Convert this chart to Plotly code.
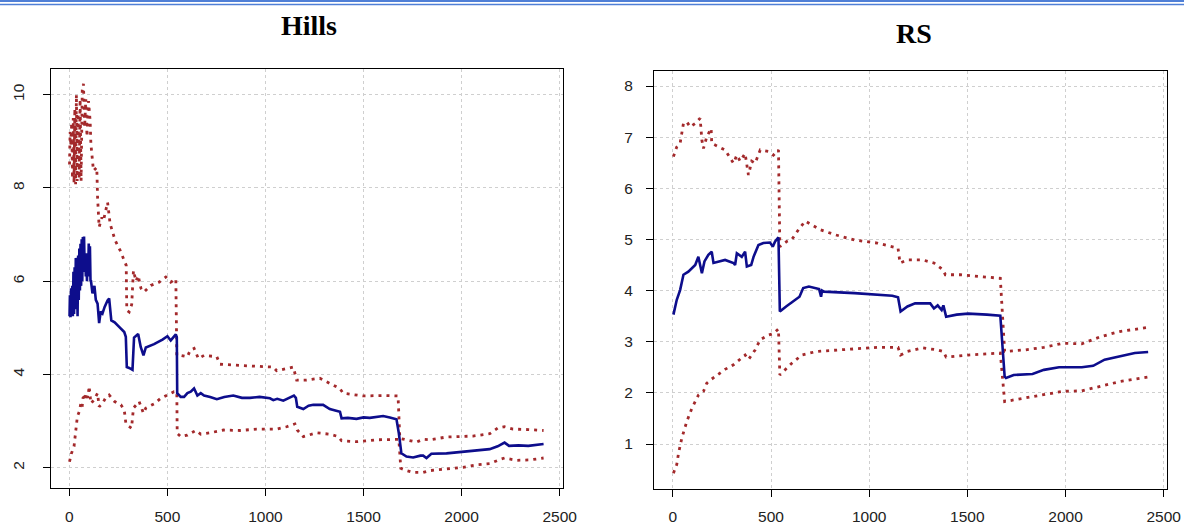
import plotly.graph_objects as go

# ---------------- Hills ----------------
hills_mean_x = [1, 3, 6, 9, 12, 15, 18, 21, 24, 27, 30, 33, 36, 39, 42, 45, 48, 51, 54, 57, 60, 63, 66, 69,
                72, 75, 78, 81, 84, 87, 90, 93, 96, 99, 102, 105, 108, 110, 118, 128, 135, 144, 152, 160, 169,
                180, 195, 203, 214, 231, 254, 280, 288, 293, 305, 322, 330, 351, 364, 378, 390, 432, 475, 500,
                517, 543, 548, 550, 568, 585, 602, 619, 636, 645, 653, 670, 687, 718, 752, 790, 836, 880, 921,
                970, 1023, 1040, 1060, 1091, 1120, 1145, 1155, 1162, 1193, 1220, 1244, 1294, 1328, 1363, 1380,
                1388, 1420, 1464, 1500, 1532, 1570, 1600, 1634, 1668, 1680, 1693, 1719, 1753, 1790, 1804, 1821,
                1846, 1923, 2024, 2086, 2143, 2184, 2219, 2242, 2290, 2340, 2380, 2418]
hills_mean_y = [5.25, 5.7, 5.23, 5.85, 5.3, 5.9, 5.25, 6.2, 5.3, 6.3, 5.4, 6.5, 5.5, 6.5, 5.25, 6.55, 5.6, 6.7,
                5.8, 6.8, 5.9, 6.9, 6.0, 6.95, 6.2, 6.96, 6.3, 6.6, 6.1, 6.5, 6.0, 6.6, 6.1, 6.81, 6.2, 6.75,
                6.0, 6.02, 5.74, 5.9, 5.6, 5.52, 5.1, 5.35, 5.31, 5.45, 5.59, 5.63, 5.16, 5.12, 5.02, 4.91, 4.81,
                4.16, 4.14, 4.10, 4.79, 4.87, 4.59, 4.41, 4.58, 4.65, 4.75, 4.82, 4.73, 4.86, 4.8, 3.6, 3.52,
                3.52, 3.6, 3.63, 3.70, 3.6, 3.55, 3.60, 3.55, 3.52, 3.47, 3.52, 3.55, 3.50, 3.50, 3.52, 3.49,
                3.45, 3.48, 3.44, 3.50, 3.55, 3.50, 3.31, 3.26, 3.33, 3.35, 3.35, 3.26, 3.22, 3.2, 3.06, 3.07,
                3.05, 3.08, 3.07, 3.1, 3.11, 3.08, 3.04, 2.74, 2.31, 2.24, 2.22, 2.26, 2.26, 2.21, 2.30, 2.31,
                2.35, 2.39, 2.40, 2.46, 2.54, 2.47, 2.48, 2.47, 2.49, 2.51]

hills_up_x = [1, 4, 8, 12, 16, 20, 24, 28, 32, 36, 40, 45, 50, 55, 60, 66, 72, 78, 84, 90, 98, 106, 110, 123,
              140, 144, 152, 166, 174, 185, 195, 208, 234, 259, 290, 293, 305, 318, 327, 340, 351, 365, 381,
              415, 458, 492, 517, 543, 548, 568, 602, 616, 636, 658, 687, 752, 768, 887, 1040, 1057, 1100,
              1142, 1159, 1210, 1277, 1328, 1379, 1396, 1498, 1600, 1676, 1685, 1719, 1770, 1804, 1838, 1923,
              2058, 2143, 2184, 2219, 2262, 2340, 2418]
hills_up_y = [8.5, 9.2, 8.9, 9.4, 8.2, 9.5, 8.1, 9.7, 8.08, 10.0, 8.15, 9.6, 8.2, 9.9, 8.15, 10.1, 10.23, 9.3,
              9.9, 9.1, 9.86, 9.44, 8.94, 8.37, 8.44, 7.8, 7.16, 7.37, 7.3, 7.5, 7.69, 7.23, 6.87, 6.66, 6.34,
              5.38, 5.34, 5.5, 6.23, 6.0, 6.12, 5.85, 5.77, 5.91, 5.98, 6.09, 5.98, 6.05, 4.41, 4.41, 4.38,
              4.52, 4.56, 4.34, 4.41, 4.38, 4.22, 4.19, 4.16, 4.08, 4.12, 4.16, 3.88, 3.88, 3.92, 3.81, 3.70,
              3.60, 3.54, 3.55, 3.54, 2.63, 2.60, 2.55, 2.61, 2.60, 2.66, 2.68, 2.73, 2.85, 2.88, 2.83, 2.82,
              2.80]

hills_lo_x = [1, 10, 24, 30, 34, 41, 50, 59, 65, 70, 76, 83, 89, 95, 101, 110, 125, 144, 152, 169, 185, 203,
              231, 263, 280, 288, 300, 317, 327, 356, 378, 390, 432, 466, 500, 534, 548, 550, 568, 602, 645,
              670, 718, 786, 870, 955, 1057, 1108, 1150, 1162, 1193, 1261, 1328, 1371, 1388, 1464, 1566, 1634,
              1680, 1690, 1719, 1753, 1804, 1838, 1923, 2007, 2086, 2143, 2203, 2219, 2281, 2350, 2418]
hills_lo_y = [2.13, 2.3, 2.46, 2.7, 2.88, 3.10, 3.2, 3.38, 3.3, 3.5, 3.52, 3.45, 3.60, 3.5, 3.75, 3.38, 3.45,
              3.60, 3.31, 3.38, 3.5, 3.56, 3.42, 3.35, 3.24, 2.96, 2.90, 2.85, 3.28, 3.42, 3.17, 3.28, 3.37,
              3.49, 3.56, 3.63, 3.63, 2.74, 2.67, 2.70, 2.80, 2.72, 2.75, 2.81, 2.80, 2.83, 2.83, 2.88, 2.94,
              2.81, 2.67, 2.75, 2.72, 2.67, 2.58, 2.56, 2.60, 2.61, 2.61, 1.99, 1.94, 1.90, 1.90, 1.94, 1.97,
              2.01, 2.07, 2.09, 2.19, 2.21, 2.16, 2.17, 2.21]

# ---------------- RS ----------------
rs_mean_x = [3, 20, 37, 54, 79, 114, 130, 148, 161, 181, 198, 207, 266, 309, 317, 326, 351, 368, 377, 399, 411,
             436, 461, 495, 509, 521, 538, 545, 577, 616, 645, 664, 693, 745, 755, 760, 770, 925, 1021, 1118,
             1147, 1160, 1195, 1234, 1311, 1330, 1349, 1369, 1378, 1392, 1446, 1504, 1600, 1668, 1690, 1697,
             1736, 1832, 1890, 1967, 2083, 2141, 2199, 2276, 2353, 2421]
rs_mean_y = [3.53, 3.82, 4.01, 4.31, 4.37, 4.50, 4.66, 4.34, 4.57, 4.70, 4.76, 4.54, 4.60, 4.54, 4.50, 4.73,
             4.66, 4.76, 4.47, 4.50, 4.66, 4.89, 4.93, 4.94, 4.86, 4.96, 5.04, 3.59, 3.69, 3.79, 3.88, 4.05,
             4.08, 4.03, 3.88, 4.0, 3.98, 3.95, 3.92, 3.90, 3.87, 3.59, 3.69, 3.75, 3.75, 3.65, 3.71, 3.62,
             3.71, 3.49, 3.53, 3.55, 3.53, 3.51, 2.32, 2.29, 2.35, 2.37, 2.45, 2.50, 2.50, 2.53, 2.65, 2.72,
             2.78, 2.80]

rs_up_x = [3, 20, 37, 45, 54, 71, 88, 114, 139, 148, 156, 173, 195, 198, 266, 309, 326, 343, 368, 385, 402,
           419, 445, 487, 512, 538, 545, 580, 606, 640, 674, 751, 828, 925, 1041, 1147, 1157, 1195, 1272, 1330,
           1378, 1388, 1465, 1581, 1668, 1690, 1793, 1890, 1986, 2083, 2180, 2276, 2421]
rs_up_y = [6.62, 6.81, 6.88, 7.07, 7.27, 7.30, 7.20, 7.27, 7.37, 6.94, 6.78, 7.01, 7.17, 6.88, 6.75, 6.49,
           6.65, 6.53, 6.68, 6.26, 6.53, 6.49, 6.75, 6.72, 6.65, 6.75, 4.86, 4.96, 5.0, 5.19, 5.36, 5.19,
           5.09, 4.99, 4.93, 4.83, 4.54, 4.6, 4.6, 4.54, 4.40, 4.31, 4.31, 4.27, 4.24, 2.81, 2.84, 2.89,
           2.97, 2.96, 3.10, 3.20, 3.28]

rs_lo_x = [3, 20, 29, 46, 71, 97, 131, 156, 173, 198, 266, 309, 368, 385, 419, 445, 487, 512, 538, 545, 606,
           657, 732, 828, 925, 1041, 1147, 1160, 1195, 1272, 1349, 1378, 1392, 1504, 1668, 1690, 1793, 1890,
           1986, 2083, 2180, 2276, 2421]
rs_lo_y = [0.43, 0.60, 0.82, 1.12, 1.44, 1.70, 1.96, 2.03, 2.19, 2.27, 2.46, 2.55, 2.74, 2.65, 2.84, 3.04,
           3.13, 3.16, 3.25, 2.35, 2.58, 2.74, 2.81, 2.84, 2.86, 2.89, 2.89, 2.74, 2.81, 2.88, 2.84, 2.81,
           2.70, 2.74, 2.78, 1.83, 1.90, 1.96, 2.03, 2.04, 2.13, 2.22, 2.31]

titles = ["Hills", "RS"]
x_ticks = [0, 500, 1000, 1500, 2000, 2500]
hills_y_ticks = [2, 4, 6, 8, 10]
rs_y_ticks = [1, 2, 3, 4, 5, 6, 7, 8]

BLUE = "#0d0d8c"
RED = "#a3292b"
W, H = 1184, 526

fig = go.Figure()


def add_panel(mx, my, ux, uy, lx, ly, xa, ya):
    for xs, ys in ((ux, uy), (lx, ly)):
        fig.add_trace(go.Scatter(x=xs, y=ys, mode="lines", xaxis=xa, yaxis=ya,
                                 line=dict(color=RED, width=2.8, dash="3px,5px"),
                                 hoverinfo="skip", showlegend=False))
    fig.add_trace(go.Scatter(x=mx, y=my, mode="lines", xaxis=xa, yaxis=ya,
                             line=dict(color=BLUE, width=2.6),
                             hoverinfo="skip", showlegend=False))


add_panel(hills_mean_x, hills_mean_y, hills_up_x, hills_up_y, hills_lo_x, hills_lo_y, "x", "y")
add_panel(rs_mean_x, rs_mean_y, rs_up_x, rs_up_y, rs_lo_x, rs_lo_y, "x2", "y2")

tickfont = dict(family="Liberation Sans, Arial, sans-serif", size=15.5, color="#222222")
common_x = dict(range=[-96, 2517], tickvals=x_ticks, ticks="outside", ticklen=7, tickcolor="#000",
                showline=True, linecolor="#000", linewidth=1, mirror=True,
                showgrid=True, gridcolor="#cfcfcf", griddash="dot", gridwidth=1,
                zeroline=False, tickfont=tickfont, ticklabelstandoff=7, automargin=False)
common_y = dict(ticks="outside", ticklen=7, tickcolor="#000",
                showline=True, linecolor="#000", linewidth=1, mirror=True,
                showgrid=True, gridcolor="#cfcfcf", griddash="dot", gridwidth=1,
                zeroline=False, tickfont=tickfont, automargin=False)

fig.update_layout(
    width=W, height=H,
    margin=dict(l=0, r=0, t=0, b=0, autoexpand=False),
    paper_bgcolor="white", plot_bgcolor="white",
    xaxis=dict(domain=[50.5 / W, 563 / W], anchor="y", **common_x),
    yaxis=dict(domain=[(H - 488) / H, (H - 68.5) / H], anchor="x", range=[1.567, 10.56],
               tickvals=hills_y_ticks, tickangle=-90, ticklabelstandoff=12, **common_y),
    xaxis2=dict(domain=[654 / W, 1167 / W], anchor="y2", **common_x),
    yaxis2=dict(domain=[(H - 488.5) / H, (H - 70.7) / H], anchor="x2", range=[0.13, 8.3],
                tickvals=rs_y_ticks, ticklabelstandoff=10, **common_y),
    annotations=[
        dict(text="<b>%s</b>" % titles[0], x=309 / W, y=(H - 25) / H, xref="paper", yref="paper",
             showarrow=False, xanchor="center", yanchor="middle",
             font=dict(family="Liberation Serif, Times New Roman, serif", size=28, color="#000")),
        dict(text="<b>%s</b>" % titles[1], x=914 / W, y=(H - 33) / H, xref="paper", yref="paper",
             showarrow=False, xanchor="center", yanchor="middle",
             font=dict(family="Liberation Serif, Times New Roman, serif", size=28, color="#000")),
    ],
    shapes=[
        dict(type="line", xref="paper", yref="paper", x0=0, x1=1, y0=(H - 1) / H, y1=(H - 1) / H,
             line=dict(color="#4f7fd6", width=2)),
        dict(type="line", xref="paper", yref="paper", x0=0, x1=1, y0=(H - 4.5) / H, y1=(H - 4.5) / H,
             line=dict(color="#4f7fd6", width=1.5)),
    ],
)

fig.write_html("out.html", config={"displayModeBar": False},
               post_script="document.body.style.margin='0px';document.body.style.padding='0px';"
                           "document.body.style.overflow='hidden';")
